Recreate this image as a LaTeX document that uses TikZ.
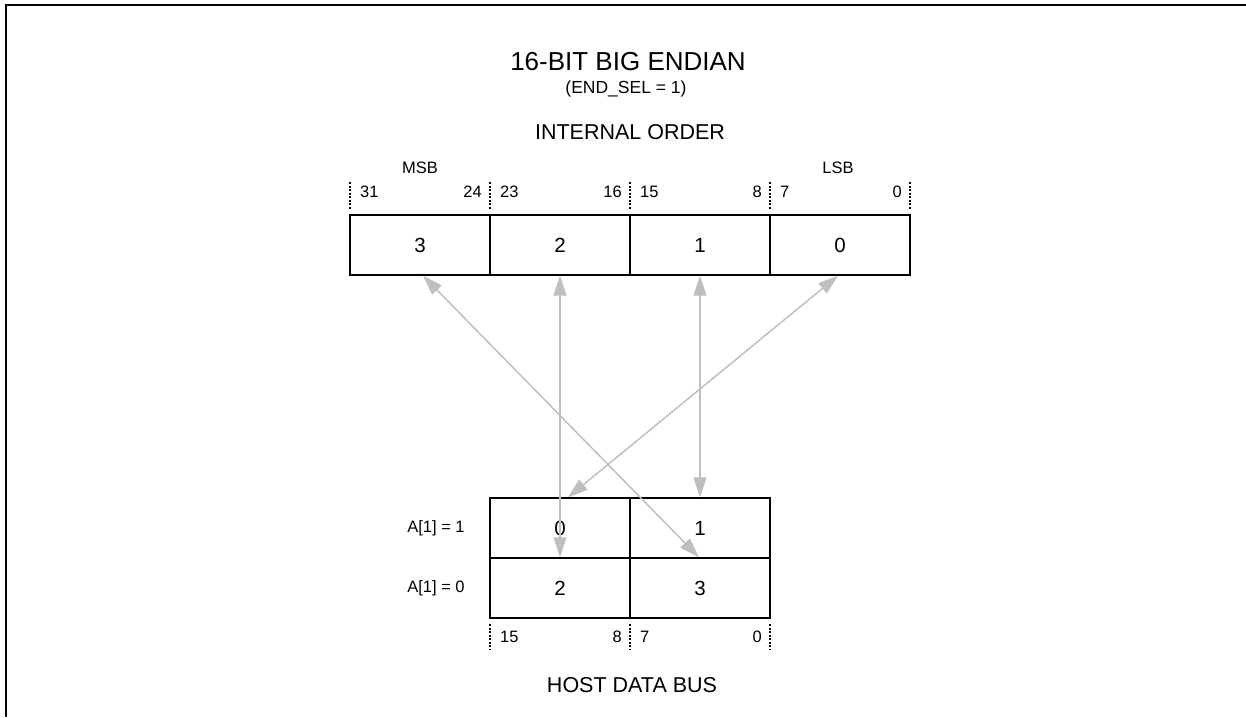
\documentclass[tikz,border=0pt]{standalone}
\usepackage{fontspec}
\setmainfont{Liberation Sans}
\usetikzlibrary{arrows.meta}
\begin{document}
\begin{tikzpicture}[x=1pt,y=-1pt,
  cell/.style={draw,line width=1.4pt,minimum width=140pt,minimum height=60pt,inner sep=0pt,font=\fontsize{20.5}{24}\selectfont},
  small/.style={inner sep=0pt,font=\fontsize{16.5}{19}\selectfont},
  big/.style={inner sep=0pt,font=\fontsize{21.5}{25}\selectfont},
  tick/.style={line width=2.4pt,dash pattern=on 2.2pt off 1.3pt},
  link/.style={draw=black!25,line width=1.5pt,{Triangle[length=20pt,width=13pt]}-{Triangle[length=20pt,width=13pt]}}
]
\useasboundingbox (0,0) rectangle (1246,717);
\draw[line width=2pt] (6,717) -- (6,5) -- (1246,5);

% titles
\node[inner sep=0pt,font=\fontsize{26}{30}\selectfont] (title) at (628,62) {16-BIT BIG ENDIAN};
\node[inner sep=0pt,font=\fontsize{17.5}{20}\selectfont] (sel) at (626,89) {(END\_SEL = 1)};
\node[big] (internal) at (630,132) {INTERNAL ORDER};
\node[big] (host) at (632,685) {HOST DATA BUS};

% top register
\node[cell] (t3) at (420,245) {3};
\node[cell] (t2) at (560,245) {2};
\node[cell] (t1) at (700,245) {1};
\node[cell] (t0) at (840,245) {0};
\node[small] (msb) at (420,168) {MSB};
\node[small] (lsb) at (838,168) {LSB};
\foreach \x in {350,490,630,770,910} \draw[tick] (\x,182) -- (\x,209);
\node[small,anchor=west] (b31) at (360,192) {31};
\node[small,anchor=east] (b24) at (482,192) {24};
\node[small,anchor=west] (b23) at (500,192) {23};
\node[small,anchor=east] (b16) at (622,192) {16};
\node[small,anchor=west] (b15) at (640,192) {15};
\node[small,anchor=east] (b8) at (762,192) {8};
\node[small,anchor=west] (b7) at (780,192) {7};
\node[small,anchor=east] (b0) at (902,192) {0};

% host bus
\node[cell] (h0) at (560,528) {0};
\node[cell] (h1) at (700,528) {1};
\node[cell] (h2) at (560,588) {2};
\node[cell] (h3) at (700,588) {3};
\node[small] (a1) at (436,528) {A[1] = 1};
\node[small] (a0) at (436,588) {A[1] = 0};
\foreach \x in {490,630,770} \draw[tick] (\x,624) -- (\x,650);
\node[small,anchor=west] (c15) at (500,637) {15};
\node[small,anchor=east] (c8) at (622,637) {8};
\node[small,anchor=west] (c7) at (640,637) {7};
\node[small,anchor=east] (c0) at (762,637) {0};

% links
\draw[link] ([xshift=3pt]t3.south) -- ([xshift=-1pt]h3.north);
\draw[link] (t2.south) -- (h2.north);
\draw[link] (t1.south) -- (h1.north);
\draw[link] ([xshift=-2pt]t0.south) -- ([xshift=8pt]h0.north);
\end{tikzpicture}
\end{document}
